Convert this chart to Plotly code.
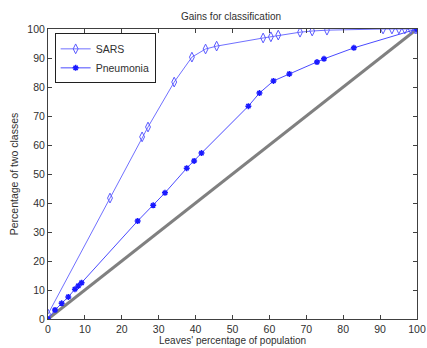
import plotly.graph_objects as go

sars_x = [0, 16.8, 25.5, 27.1, 34.2, 39.0, 42.7, 45.7, 58.3, 60.4, 62.4, 68.3, 71.6, 75.6, 90.8, 93.2, 95.1, 96.7, 98.3, 99.5, 100]
sars_y = [1.7, 41.7, 62.8, 66.2, 81.7, 90.3, 93.1, 94.1, 96.9, 97.3, 97.9, 98.9, 99.3, 99.6, 100, 100, 100, 100, 100, 100, 100]

pneu_x = [0, 1.9, 3.7, 5.5, 7.3, 8.2, 9.1, 24.3, 28.5, 31.7, 37.6, 39.6, 41.6, 54.3, 57.3, 61.1, 65.4, 72.9, 74.8, 82.9, 100]
pneu_y = [0, 3.1, 5.4, 7.6, 10.3, 11.4, 12.5, 33.8, 39.2, 43.5, 52.0, 54.5, 57.2, 73.4, 77.9, 82.1, 84.5, 88.6, 89.7, 93.5, 100]

base_x = [0, 100]
base_y = [0, 100]

ticks = [0, 10, 20, 30, 40, 50, 60, 70, 80, 90, 100]

fig = go.Figure()
fig.add_trace(go.Scatter(x=base_x, y=base_y, mode="lines",
                         line=dict(color="#808080", width=3), showlegend=False))
fig.add_trace(go.Scatter(x=sars_x, y=sars_y, mode="lines+markers", name="SARS",
                         line=dict(color="#7070ff", width=1),
                         marker=dict(symbol="diamond-tall-open", size=7, color="#5a5aff",
                                     line=dict(width=1, color="#5a5aff"))))
fig.add_trace(go.Scatter(x=pneu_x, y=pneu_y, mode="lines+markers", name="Pneumonia",
                         line=dict(color="#4a4aff", width=1),
                         marker=dict(symbol="asterisk-open", size=5, color="#1a1aff",
                                     line=dict(width=1.5, color="#1a1aff"))))

axis_common = dict(showgrid=False, zeroline=False, showline=True, linecolor="#404040",
                   linewidth=1, mirror="allticks", ticks="inside", ticklen=4,
                   tickcolor="#404040", tickvals=ticks, range=[0, 100], automargin=False,
                   tickfont=dict(family="Liberation Sans", size=10.5, color="#303030"))

fig.update_layout(
    width=427, height=348,
    margin=dict(l=48, r=10, t=29, b=29),
    paper_bgcolor="white", plot_bgcolor="white",
    title=dict(text="Gains for classification", x=0.541, xanchor="center", y=0.962, yanchor="top",
               automargin=False,
               font=dict(family="Liberation Sans", size=10, color="#303030")),
    xaxis=dict(**axis_common,
               title=dict(text="Leaves' percentage of population", standoff=0,
                          font=dict(family="Liberation Sans", size=10, color="#303030"))),
    yaxis=dict(**axis_common,
               title=dict(text="Percentage of two classes", standoff=6,
                          font=dict(family="Liberation Sans", size=10.5, color="#303030"))),
    legend=dict(x=0.018, y=0.985, xanchor="left", yanchor="top",
                bordercolor="#202020", borderwidth=1, bgcolor="white",
                font=dict(family="Liberation Sans", size=10.5, color="#303030"),
                tracegroupgap=0, itemwidth=30),
)

fig.write_html("out.html", config={"displayModeBar": False},
               post_script="document.body.style.margin='0';document.body.style.overflow='hidden';")
